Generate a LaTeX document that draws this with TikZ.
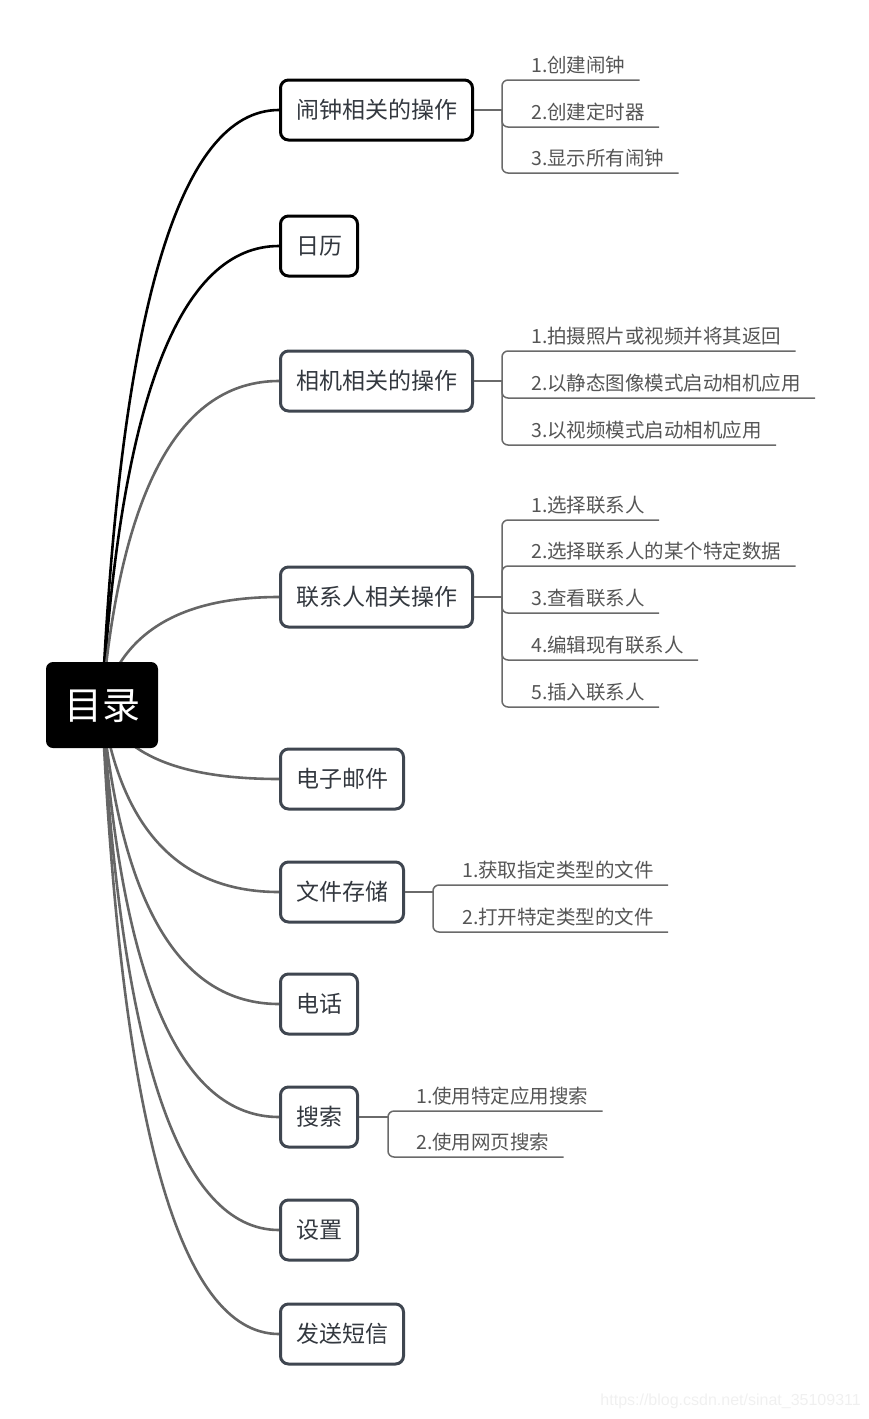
\documentclass[tikz,border=0pt]{standalone}
\usepackage{fontspec}
\setmainfont{Noto Sans CJK SC}
\newfontfamily\wmfont{Liberation Sans}
\usetikzlibrary{calc,backgrounds}
\definecolor{boxtext}{HTML}{33383F}
\definecolor{boxgray}{HTML}{3F4650}
\definecolor{curvegray}{HTML}{666666}
\definecolor{leaftext}{HTML}{555555}
\definecolor{leafline}{HTML}{6A6A6A}
\tikzset{
  rootbox/.style={fill=black, rounded corners=7pt, minimum width=112pt, minimum height=86pt,
    text=white, font=\fontsize{38}{38}\selectfont, inner sep=0pt,
    text height=33pt, text depth=5pt},
  branch/.style={draw=boxgray, fill=white, line width=3pt, rounded corners=8pt,
    minimum height=60pt, inner xsep=15.5pt, inner ysep=0pt, text=boxtext,
    font=\fontsize{23}{23}\selectfont, text height=20pt, text depth=3pt, anchor=west},
  branchdark/.style={branch, draw=black},
  leaf/.style={anchor=base west, inner sep=0pt, text=leaftext, font=\fontsize{19.5}{19.5}\selectfont},
  link/.style={line width=2.6pt, draw=curvegray},
  linkdark/.style={line width=2.6pt, draw=black},
  leafline/.style={line width=1.5pt, draw=leafline, rounded corners=6pt},
}
\newcommand{\rootlink}[3]{%
  \draw[#1] (root.center) .. controls ($(root.center)!2/3!(130,#3)$) and ($(#2.west)!2/3!(130,#3)$) .. (#2.west);}
\begin{document}
\begin{tikzpicture}[x=1pt,y=-1pt]
\useasboundingbox (0,0) rectangle (869,1419);
% root
\node[rootbox] (root) at (102,705) {目录};
% branch boxes
\node[branchdark] (b1) at (279,110) {闹钟相关的操作};
\node[branchdark] (b2) at (279,246) {日历};
\node[branch] (b3) at (279,381) {相机相关的操作};
\node[branch] (b4) at (279,597) {联系人相关操作};
\node[branch] (b5) at (279,779) {电子邮件};
\node[branch] (b6) at (279,892) {文件存储};
\node[branch] (b7) at (279,1004) {电话};
\node[branch] (b8) at (279,1117) {搜索};
\node[branch] (b9) at (279,1230) {设置};
\node[branch] (b10) at (279,1334) {发送短信};
% links behind the boxes
\begin{scope}[on background layer]
\rootlink{linkdark}{b1}{110}
\rootlink{linkdark}{b2}{246}
\rootlink{link}{b3}{381}
\rootlink{link}{b4}{597}
\rootlink{link}{b5}{779}
\rootlink{link}{b6}{892}
\rootlink{link}{b7}{1004}
\rootlink{link}{b8}{1117}
\rootlink{link}{b9}{1230}
\rootlink{link}{b10}{1334}
\end{scope}
% ---- leaves: alarm
\coordinate (j1) at (502,110);
\draw[leafline] (b1.east) -- (j1);
\node[leaf] (l11) at (531,72) {1.创建闹钟};
\node[leaf] (l12) at (531,119) {2.创建定时器};
\node[leaf] (l13) at (531,165) {3.显示所有闹钟};
\foreach \n in {l11,l12,l13}{\draw[leafline] (j1) |- ([xshift=14pt,yshift=-8pt]\n.base east);}
% ---- camera
\coordinate (j3) at (502,381);
\draw[leafline] (b3.east) -- (j3);
\node[leaf] (l31) at (531,343) {1.拍摄照片或视频并将其返回};
\node[leaf] (l32) at (531,390) {2.以静态图像模式启动相机应用};
\node[leaf] (l33) at (531,437) {3.以视频模式启动相机应用};
\foreach \n in {l31,l32,l33}{\draw[leafline] (j3) |- ([xshift=14pt,yshift=-8pt]\n.base east);}
% ---- contacts
\coordinate (j4) at (502,597);
\draw[leafline] (b4.east) -- (j4);
\node[leaf] (l41) at (531,512) {1.选择联系人};
\node[leaf] (l42) at (531,558) {2.选择联系人的某个特定数据};
\node[leaf] (l43) at (531,605) {3.查看联系人};
\node[leaf] (l44) at (531,652) {4.编辑现有联系人};
\node[leaf] (l45) at (531,699) {5.插入联系人};
\foreach \n in {l41,l42,l43,l44,l45}{\draw[leafline] (j4) |- ([xshift=14pt,yshift=-8pt]\n.base east);}
% ---- files
\coordinate (j6) at (433,892);
\draw[leafline] (b6.east) -- (j6);
\node[leaf] (l61) at (462,877) {1.获取指定类型的文件};
\node[leaf] (l62) at (462,924) {2.打开特定类型的文件};
\foreach \n in {l61,l62}{\draw[leafline] (j6) |- ([xshift=14pt,yshift=-8pt]\n.base east);}
% ---- search
\coordinate (j8) at (388,1117);
\draw[leafline] (b8.east) -- (j8);
\node[leaf] (l81) at (416,1103) {1.使用特定应用搜索};
\node[leaf] (l82) at (416,1149) {2.使用网页搜索};
\foreach \n in {l81,l82}{\draw[leafline] (j8) |- ([xshift=14pt,yshift=-8pt]\n.base east);}
% watermark
\node[anchor=base east, inner sep=0pt, text=black!6, font=\wmfont\fontsize{16}{16}\selectfont] (wm) at (861,1405) {https://blog.csdn.net/sinat\_35109311};
\end{tikzpicture}
\end{document}
